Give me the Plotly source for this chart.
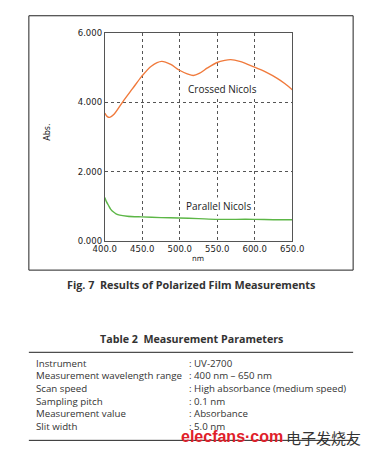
import plotly.graph_objects as go

W, H = 382, 461

# ---- data ----
crossed_nm = [400, 403, 406.6, 412, 424, 437, 449, 462, 476, 488, 499, 510, 518, 526, 537, 549, 560, 568, 580, 599, 615, 630, 640, 650]
crossed_abs = [3.69, 3.60, 3.57, 3.65, 4.02, 4.40, 4.75, 5.05, 5.19, 5.10, 4.94, 4.83, 4.78, 4.84, 5.00, 5.15, 5.22, 5.24, 5.19, 5.03, 4.88, 4.70, 4.55, 4.37]
parallel_nm = [400, 402, 405, 408, 411.7, 415, 420, 430, 449, 475, 499, 525, 550, 575, 600, 625, 650]
parallel_abs = [1.25, 1.14, 1.02, 0.91, 0.83, 0.78, 0.74, 0.71, 0.69, 0.67, 0.66, 0.64, 0.62, 0.62, 0.62, 0.61, 0.61]

x_ticks = [400, 450, 500, 550, 600, 650]
x_tick_labels = ["400.0", "450.0", "500.0", "550.0", "600.0", "650.0"]
y_ticks = [0, 2, 4, 6]
y_tick_labels = ["0.000", "2.000", "4.000", "6.000"]

param_names = ["Instrument", "Measurement wavelength range", "Scan speed",
               "Sampling pitch", "Measurement value", "Slit width"]
param_values = [": UV-2700", ": 400 nm \u2013 650 nm", ": High absorbance (medium speed)",
                ": 0.1 nm", ": Absorbance", ": 5.0 nm"]

# ---- helpers: pixel -> paper ----
def px(x):
    return x / W

def py(y):
    return 1 - y / H

fig = go.Figure()
fig.add_trace(go.Scatter(x=crossed_nm, y=crossed_abs, mode="lines",
                         line=dict(color="#F07A3C", width=1.4, shape="spline", smoothing=0.8),
                         showlegend=False, hoverinfo="skip"))
fig.add_trace(go.Scatter(x=parallel_nm, y=parallel_abs, mode="lines",
                         line=dict(color="#5CB646", width=1.4, shape="spline", smoothing=0.8),
                         showlegend=False, hoverinfo="skip"))

tick_font = dict(family="DejaVu Sans", size=8.5, color="#222")
axis_common = dict(showline=True, linecolor="#555", linewidth=1, mirror=True,
                   showgrid=True, gridcolor="#555", griddash="dot", gridwidth=0.8,
                   zeroline=False, ticks="", tickfont=tick_font)

fig.update_layout(
    width=W, height=H,
    margin=dict(l=0, r=0, t=0, b=0),
    paper_bgcolor="white", plot_bgcolor="white",
    xaxis=dict(domain=[px(99), px(299)], range=[400, 650],
               tickvals=x_ticks, ticktext=x_tick_labels, **axis_common),
    yaxis=dict(domain=[py(241), py(29)], range=[0, 6],
               tickvals=y_ticks, ticktext=y_tick_labels, **axis_common),
    font=dict(family="Open Sans", color="#222"),
)

shapes = [
    dict(type="rect", xref="paper", yref="paper", x0=px(18), x1=px(364), y0=py(271), y1=py(11),
         line=dict(color="#222", width=1)),
    dict(type="line", xref="paper", yref="paper", x0=px(18), x1=px(364), y0=py(355), y1=py(355),
         line=dict(color="#222", width=1)),
    dict(type="line", xref="paper", yref="paper", x0=px(18), x1=px(364), y0=py(445), y1=py(445),
         line=dict(color="#222", width=1)),
]
fig.update_layout(shapes=shapes)


def paper_text(x, y, text, size, family="Open Sans", color="#333", xanchor="center", **kw):
    return dict(x=px(x), y=py(y), xref="paper", yref="paper", text=text, showarrow=False,
                xanchor=xanchor, yanchor="middle",
                font=dict(family=family, size=size, color=color), **kw)


ann = []
ann.append(dict(x=557, y=4.4, xref="x", yref="y", text="Crossed Nicols", showarrow=False,
                xanchor="center", yanchor="middle",
                font=dict(family="Open Sans", size=10, color="#222"), bgcolor="white"))
ann.append(dict(x=552, y=1.0, xref="x", yref="y", text="Parallel Nicols", showarrow=False,
                xanchor="center", yanchor="middle",
                font=dict(family="Open Sans", size=10, color="#222"), bgcolor="white"))
ann.append(paper_text(38, 130, "Abs.", 8, family="DejaVu Sans", color="#222", textangle=-90))
ann.append(paper_text(198, 259, "nm", 7.5, family="DejaVu Sans", color="#222"))
ann.append(paper_text(191, 286, "<b>Fig. 7  Results of Polarized Film Measurements</b>", 10.8))
ann.append(paper_text(191, 341, "<b>Table 2  Measurement Parameters</b>", 10.7))
row_y = [366, 379, 392, 405, 418, 431]
for name, val, yy in zip(param_names, param_values, row_y):
    ann.append(paper_text(24, yy, name, 9.7, xanchor="left"))
    ann.append(paper_text(187, yy, val, 9.7, xanchor="left"))
ann.append(paper_text(178, 441, "<b>elecfans\u00b7com</b>", 16, family="Liberation Sans",
                      color="#E0202A", xanchor="left"))
ann.append(paper_text(290, 442, "电子发烧友", 15, family="Noto Sans CJK SC", xanchor="left"))
fig.update_layout(annotations=ann)

fig.write_html("out.html")
